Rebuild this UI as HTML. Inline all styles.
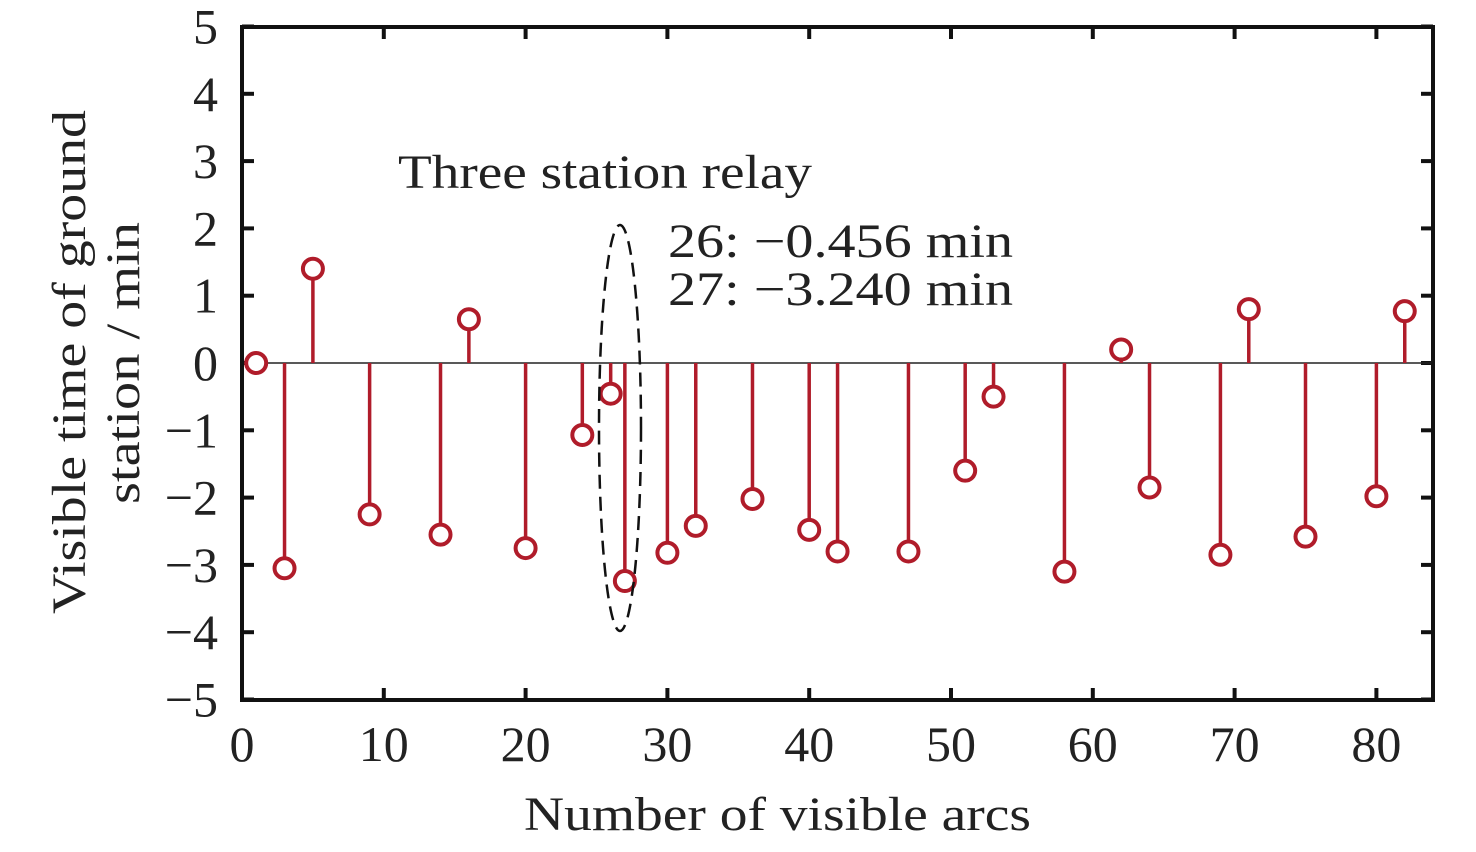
<!DOCTYPE html>
<html><head><meta charset="utf-8"><style>
html,body{margin:0;padding:0;background:#fff;}
svg text{font-family:"Liberation Serif",serif;fill:#222;}
</style></head><body>
<svg id="chart" width="1476" height="847" viewBox="0 0 1476 847" xmlns="http://www.w3.org/2000/svg">
<g id="ticks"></g>
<line x1="242" y1="363" x2="1433" y2="363" stroke="#222" stroke-width="1.5"/>
<g id="stems"></g>
<rect x="242" y="27" width="1191" height="673" fill="none" stroke="#111" stroke-width="4"/>
<ellipse cx="620" cy="428" rx="21" ry="203" fill="none" stroke="#111" stroke-width="2.5" stroke-dasharray="14,8"/>
<text x="398" y="188" font-size="48" textLength="414" lengthAdjust="spacingAndGlyphs">Three station relay</text>
<text x="668" y="257" font-size="48" textLength="345" lengthAdjust="spacingAndGlyphs">26: −0.456 min</text>
<text x="668" y="305" font-size="48" textLength="345" lengthAdjust="spacingAndGlyphs">27: −3.240 min</text>
<text x="524" y="830" font-size="48" textLength="507" lengthAdjust="spacingAndGlyphs">Number of visible arcs</text>
<g transform="translate(85,362) rotate(-90)">
<text x="-252" y="0" font-size="48" textLength="504" lengthAdjust="spacingAndGlyphs">Visible time of ground</text>
<text x="-142" y="54" font-size="48" textLength="282" lengthAdjust="spacingAndGlyphs">station / min</text>
</g>
</svg>
<script>
const arcs=[1,3,5,9,14,16,20,24,26,27,30,32,36,40,42,47,51,53,58,62,64,69,71,75,80,82];
const times=[0,-3.05,1.4,-2.25,-2.55,0.65,-2.75,-1.07,-0.456,-3.24,-2.82,-2.42,-2.02,-2.48,-2.8,-2.8,-1.6,-0.5,-3.1,0.2,-1.85,-2.85,0.8,-2.58,-1.98,0.77];
const xTicks=[0,10,20,30,40,50,60,70,80];
const yTicks=[5,4,3,2,1,0,-1,-2,-3,-4,-5];
const NS='http://www.w3.org/2000/svg';
const X=v=>242+v*14.18;
const Y=v=>363-v*67.3;
function mk(tag,attrs,parent){const e=document.createElementNS(NS,tag);for(const k in attrs)e.setAttribute(k,attrs[k]);parent.appendChild(e);return e;}
const tg=document.getElementById('ticks');
xTicks.forEach(t=>{
  const l=mk('line',{x1:X(t),x2:X(t),y1:700,y2:688,stroke:'#111','stroke-width':4},tg);
  
  
  const l2=mk('line',{x1:X(t),x2:X(t),y1:27,y2:39,stroke:'#111','stroke-width':4},tg);
  
  
  const tx=mk('text',{x:X(t),y:761,'font-size':50,'text-anchor':'middle'},tg);
  tx.textContent=t;
  
  
});
yTicks.forEach(t=>{
  const l=mk('line',{x1:242,x2:254,y1:Y(t),y2:Y(t),stroke:'#111','stroke-width':4},tg);
  
  
  const l2=mk('line',{x1:1421,x2:1433,y1:Y(t),y2:Y(t),stroke:'#111','stroke-width':4},tg);
  
  
  const tx=mk('text',{x:218,y:Y(t)+17,'font-size':50,'text-anchor':'end'},tg);
  tx.textContent=t<0?'−'+(-t):t;
  
  
});
const sg=document.getElementById('stems');
arcs.forEach((a,i)=>{
  const l=mk('line',{x1:X(a),x2:X(a),y1:Y(0),y2:Y(times[i]),stroke:'#b01c2a','stroke-width':3.5},sg);
  
  
  const c=mk('circle',{cx:X(a),cy:Y(times[i]),r:10,fill:'#fff',stroke:'#b01c2a','stroke-width':4},sg);
  
  
});
</script>
</body></html>
